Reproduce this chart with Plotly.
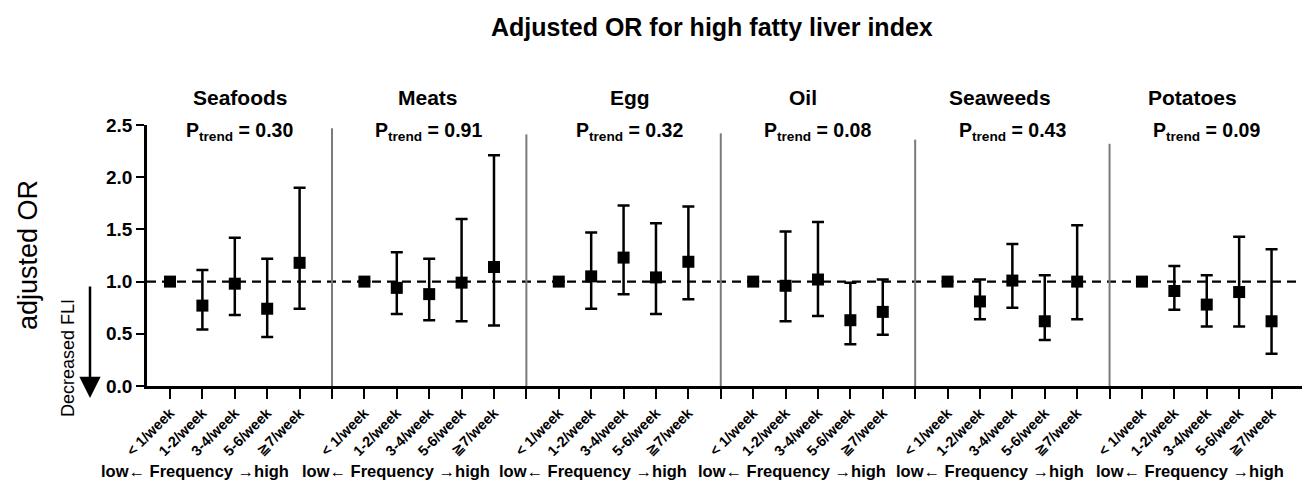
import plotly.graph_objects as go

# ---------------- data ----------------
foods = ["Seafoods", "Meats", "Egg", "Oil", "Seaweeds", "Potatoes"]
p_trend = ["0.30", "0.91", "0.32", "0.08", "0.43", "0.09"]
freq_labels = ["< 1/week", "1-2/week", "3-4/week", "5-6/week", "\u22677/week"]

or_seafoods = [1.00, 0.77, 0.98, 0.74, 1.18]
lo_seafoods = [1.00, 0.54, 0.68, 0.47, 0.74]
hi_seafoods = [1.00, 1.11, 1.42, 1.22, 1.90]

or_meats = [1.00, 0.94, 0.88, 0.99, 1.14]
lo_meats = [1.00, 0.69, 0.63, 0.62, 0.58]
hi_meats = [1.00, 1.28, 1.22, 1.60, 2.21]

or_egg = [1.00, 1.05, 1.23, 1.04, 1.19]
lo_egg = [1.00, 0.74, 0.88, 0.69, 0.83]
hi_egg = [1.00, 1.47, 1.73, 1.56, 1.72]

or_oil = [1.00, 0.96, 1.02, 0.63, 0.71]
lo_oil = [1.00, 0.62, 0.67, 0.40, 0.49]
hi_oil = [1.00, 1.48, 1.57, 0.99, 1.02]

or_seaweeds = [1.00, 0.81, 1.01, 0.62, 1.00]
lo_seaweeds = [1.00, 0.64, 0.75, 0.44, 0.64]
hi_seaweeds = [1.00, 1.02, 1.36, 1.06, 1.54]

or_potatoes = [1.00, 0.91, 0.78, 0.90, 0.62]
lo_potatoes = [1.00, 0.73, 0.57, 0.57, 0.31]
hi_potatoes = [1.00, 1.15, 1.06, 1.43, 1.31]

y_ticks = [0.0, 0.5, 1.0, 1.5, 2.0, 2.5]

# ---------------- layout helpers ----------------
W, H = 1306, 488
L, R, T, B = 147, 4, 125, 102
PW, PH = W - L - R, H - T - B
FONT = "Liberation Sans, Arial, DejaVu Sans, Noto Sans CJK JP"


def px_x(p):
    return (p - L) / PW


def px_y(p):
    return (H - B - p) / PH


ors = [or_seafoods, or_meats, or_egg, or_oil, or_seaweeds, or_potatoes]
los = [lo_seafoods, lo_meats, lo_egg, lo_oil, lo_seaweeds, lo_potatoes]
his = [hi_seafoods, hi_meats, hi_egg, hi_oil, hi_seaweeds, hi_potatoes]

fig = go.Figure()

tickvals, ticktext = [], []
for p, food in enumerate(foods):
    xs = [6 * p + i + 1 for i in range(len(freq_labels))]
    tickvals += xs
    ticktext += freq_labels
    y = ors[p]
    up = [h - v for h, v in zip(his[p], y)]
    dn = [v - l for l, v in zip(los[p], y)]
    fig.add_trace(go.Scatter(
        x=xs, y=y, mode="markers",
        marker=dict(symbol="square", size=12, color="black"),
        error_y=dict(type="data", array=up, arrayminus=dn, color="black",
                     thickness=2.5, width=6),
        showlegend=False, name=food,
    ))

# divider positions
div_tops = [2.47, 2.41, 2.42, 2.36, 2.32]
for k in range(1, len(foods)):
    tickvals.append(6 * k)
    ticktext.append("")
    fig.add_shape(type="line", x0=6 * k, x1=6 * k, y0=0, y1=div_tops[k - 1],
                  xref="x", yref="y", line=dict(color="#7a7a7a", width=2), layer="below")

# dashed reference line at OR = 1
fig.add_shape(type="line", x0=0, x1=1, xref="paper", y0=1, y1=1, yref="y",
              line=dict(color="black", width=2.4, dash="9px,6px"), layer="below")

ann = []


def add_text(text, x, y, size, angle=0):
    ann.append(dict(text=text, x=px_x(x), y=px_y(y), xref="paper", yref="paper",
                    xanchor="center", yanchor="middle", showarrow=False, textangle=angle,
                    font=dict(size=size, color="black", family=FONT)))


# main title
add_text("<b>Adjusted OR for high fatty liver index</b>", 712, 27, 25)
title_x = [240, 428, 630, 803, 1000, 1192]
pt_x = [239, 428, 629, 817, 1012, 1206]
freq_x = [195, 396, 593, 792, 990, 1190]
for p, food in enumerate(foods):
    add_text(f"<b>{food}</b>", title_x[p], 97, 21)
    add_text(f"<b>P<sub>trend</sub> = {p_trend[p]}</b>", pt_x[p], 131, 19.5)
    add_text("<b>low\u2190 Frequency \u2192high</b>", freq_x[p], 471, 16.5)

# y axis title and side note
add_text("adjusted OR", 28, 255, 27, -90)
add_text("Decreased FLI", 68, 358, 18, -90)
ann.append(dict(text="", x=px_x(90), y=px_y(398), xref="paper", yref="paper",
                showarrow=True, ax=0, ay=-113, axref="pixel", ayref="pixel",
                arrowhead=2, arrowsize=1.7, arrowwidth=2.5, arrowcolor="black"))

fig.update_layout(
    width=W, height=H,
    margin=dict(l=L, r=R, t=T, b=B, autoexpand=False),
    paper_bgcolor="white", plot_bgcolor="white",
    font=dict(family=FONT, color="black"),
    annotations=ann,
    xaxis=dict(range=[0.29, 35.94], tickvals=tickvals, ticktext=ticktext,
               tickangle=-45, ticks="outside", ticklen=10, tickwidth=2.2, tickcolor="black",
               showline=True, linecolor="black", linewidth=2.8, showgrid=False, zeroline=False,
               tickfont=dict(size=14.5, family=FONT, weight="bold")),
    yaxis=dict(range=[0, 2.5], tickvals=y_ticks, tickformat=".1f",
               ticks="outside", ticklen=8, tickwidth=2.2, tickcolor="black",
               showline=True, linecolor="black", linewidth=2.8, showgrid=False, zeroline=False,
               tickfont=dict(size=19, family=FONT, weight="bold")),
)

fig.write_html("out.html", config={"displayModeBar": False},
               post_script="document.body.style.margin='0';document.body.style.overflow='hidden';")
